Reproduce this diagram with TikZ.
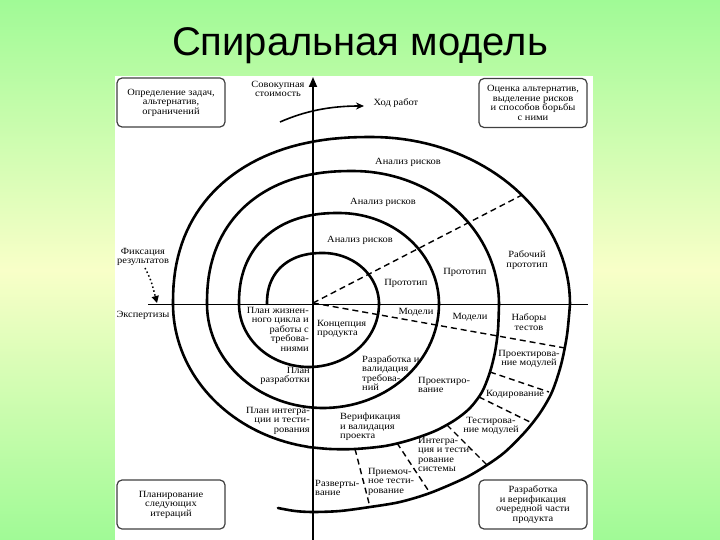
\documentclass[tikz,border=0pt]{standalone}
\usepackage{fontspec}
\setmainfont{Liberation Serif}
\newfontfamily\lbfont[FakeStretch=1.1]{Liberation Serif}
\newfontfamily\ttlfont{Liberation Sans}
\usetikzlibrary{arrows.meta}
\definecolor{bggreen}{RGB}{160,250,150}
\definecolor{bgyellow}{RGB}{248,255,200}
\begin{document}
\begin{tikzpicture}[x=1pt,y=-1pt,
  lbl/.style={font=\lbfont\fontsize{9.5}{9.5}\selectfont, inner sep=0pt, align=center},
  spiral/.style={line width=2.6pt, line cap=round, line join=round},
  dashline/.style={line width=1.4pt, dash pattern=on 6pt off 4pt},
  boxnode/.style={lbl, draw=black!75, line width=1.2pt, rounded corners=5pt, minimum width=108pt, minimum height=49pt}]
\useasboundingbox (0,0) rectangle (720,540);
\shade[top color=bggreen, bottom color=bggreen, middle color=bgyellow] (0,0) rectangle (720,540);
\fill[white] (115,76) rectangle (593,540);

% axes
\draw[line width=1pt] (148,304) -- (588,304);
\coordinate (vb) at (313,540);
\coordinate (vt) at (313,77);
\draw[line width=1.8pt, -{Triangle[length=10pt,width=8pt]}] (vb) -- (vt);

% spiral: top halves (left quarter squarer), bottom halves
\draw[spiral] plot[domain=180:90,samples=40] ({323-56*pow(abs(cos(\x))+0.0001,0.88)},{304-51*pow(abs(sin(\x))+0.0001,0.88)})
  -- plot[domain=90:0,samples=40] ({323+56*cos(\x)},{304-51*sin(\x)});
\draw[spiral] plot[domain=0:-180,samples=60] ({309+70*cos(\x)},{304-63*sin(\x)});
\draw[spiral] plot[domain=180:90,samples=40] ({339-100*pow(abs(cos(\x))+0.0001,0.88)},{304-91*pow(abs(sin(\x))+0.0001,0.88)})
  -- plot[domain=90:0,samples=40] ({339+100*cos(\x)},{304-91*sin(\x)});
\draw[spiral] plot[domain=0:-180,samples=60] ({323+116*cos(\x)},{304-104*sin(\x)});
\draw[spiral] plot[domain=180:90,samples=40] ({353-146*pow(abs(cos(\x))+0.0001,0.88)},{304-133*pow(abs(sin(\x))+0.0001,0.88)})
  -- plot[domain=90:0,samples=40] ({353+146*cos(\x)},{304-133*sin(\x)});
\draw[spiral] plot[smooth] coordinates {(499,304) (498,330) (495,352) (490,372) (482,392) (470,408) (455,420) (435,431) (410,440) (385,446) (355,449) (330,449) (308,447)}
  -- plot[domain=-100:-180,samples=40] ({336+163*cos(\x)},{304-145*sin(\x)});
\draw[spiral] plot[domain=180:90,samples=40] ({371.5-198.5*pow(abs(cos(\x))+0.0001,0.88)},{304-167*pow(abs(sin(\x))+0.0001,0.88)})
  -- plot[domain=90:0,samples=40] ({371.5+198.5*cos(\x)},{304-167*sin(\x)});
\draw[spiral] plot[smooth] coordinates {(570,304) (567,335) (561,365) (552,392) (540,413) (525,432) (505,452) (487,465) (465,478) (430,493) (400,502) (370,507) (340,511) (313,512) (295,511) (278,508)};

% dashed separators
\coordinate (O) at (313,303);
\coordinate (R1) at (522,195);
\coordinate (R2) at (565,348);
\draw[dashline] (O) -- (R1);
\draw[dashline] (O) -- (R2);
\coordinate (a2) at (490,372); \coordinate (b2) at (549,392);
\coordinate (a3) at (479,397); \coordinate (b3) at (530,422);
\coordinate (a4) at (447,425); \coordinate (b4) at (487,465);
\coordinate (a5) at (397,443); \coordinate (b5) at (430,493);
\coordinate (a6) at (355,449); \coordinate (b6) at (370,507);
\foreach \i in {2,...,6} {\draw[dashline] (a\i) -- (b\i);}

% arrows
\coordinate (h1) at (280,122);
\coordinate (h2) at (364,106);
\draw[line width=1.6pt, -{Stealth[length=8pt,width=7pt]}] (h1) .. controls (305,111) and (330,106) .. (h2);
\coordinate (f1) at (145,268);
\coordinate (f2) at (157,303);
\draw[line width=1.5pt, dash pattern=on 1.5pt off 2.5pt, -{Triangle[length=7pt,width=7pt]}] (f1) .. controls (151,280) .. (f2);

% title
\node[font=\ttlfont\fontsize{40}{44}\selectfont, anchor=base, inner sep=0pt] (title) at (360,56) {Спиральная модель};

% boxes
\node[boxnode] (bTL) at (171,102.5) {Определение задач,\\альтернатив,\\ограничений};
\node[boxnode] (bTR) at (533,103) {Оценка альтернатив,\\выделение рисков\\и способов борьбы\\с ними};
\node[boxnode] (bBL) at (171,504.5) {Планирование\\следующих\\итераций};
\node[boxnode] (bBR) at (533,504.5) {Разработка\\и верификация\\очередной части\\продукта};

% labels
\node[lbl] (cost) at (278,89) {Совокупная\\стоимость};
\node[lbl] (hod) at (396,103) {Ход работ};
\node[lbl] (ar3) at (408,162) {Анализ рисков};
\node[lbl] (ar2) at (383,202) {Анализ рисков};
\node[lbl] (ar1) at (360,240) {Анализ рисков};
\node[lbl] (pr1) at (406,283) {Прототип};
\node[lbl] (pr2) at (465,272) {Прототип};
\node[lbl] (pr3) at (527,260) {Рабочий\\прототип};
\node[lbl] (m1) at (416,312) {Модели};
\node[lbl] (m2) at (470,317) {Модели};
\node[lbl] (nt) at (529,322) {Наборы\\тестов};
\node[lbl, anchor=west, align=left] (kp) at (317,329) {Концепция\\продукта};
\node[lbl, anchor=north east, align=right] (pzc) at (309,307) {План жизнен-\\ного цикла и\\работы с\\требова-\\ниями};
\node[lbl, anchor=north east, align=right] (prz) at (310,367) {План\\разработки};
\node[lbl, anchor=north west, align=left] (rvt) at (362,355) {Разработка и\\валидация\\требова-\\ний};
\node[lbl, anchor=north west, align=left] (prj) at (418,377) {Проектиро-\\вание};
\node[lbl, anchor=north east, align=right] (pit) at (310,407) {План интегра-\\ции и тести-\\рования};
\node[lbl, anchor=north west, align=left] (vvp) at (340,413) {Верификация\\и валидация\\проекта};
\node[lbl] (pm) at (529,359) {Проектирова-\\ние модулей};
\node[lbl] (kod) at (515,394) {Кодирование};
\node[lbl] (tm) at (491,426) {Тестирова-\\ние модулей};
\node[lbl, anchor=north west, align=left] (its) at (418,437) {Интегра-\\ция и тести-\\рование\\системы};
\node[lbl, anchor=north west, align=left] (pt) at (368,468) {Приемоч-\\ное тести-\\рование};
\node[lbl, anchor=north west, align=left] (rv) at (315,480) {Разверты-\\вание};
\node[lbl] (eks) at (143,315) {Экспертизы};
\node[lbl] (fr) at (143,257) {Фиксация\\результатов};
\end{tikzpicture}
\end{document}
